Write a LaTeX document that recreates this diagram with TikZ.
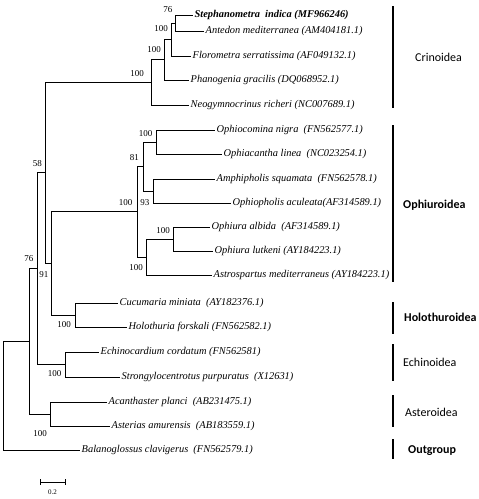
\documentclass[tikz,border=0pt]{standalone}
\usepackage{fontspec}
\setmainfont{Liberation Serif}
\newfontfamily\grpfont{Carlito}
\begin{document}
\begin{tikzpicture}[x=1pt,y=-1pt,
  br/.style={line width=0.85pt, draw=black},
  taxon/.style={anchor=west, inner sep=0pt, xshift=1.5pt, font=\fontsize{10.4}{12}\selectfont\itshape},
  boot/.style={anchor=east, inner sep=0pt, font=\fontsize{9}{10}\selectfont},
  grpbar/.style={line width=1.4pt},
  grp/.style={anchor=west, inner sep=0pt, font=\grpfont\fontsize{12}{14}\selectfont},
  grpb/.style={anchor=west, inner sep=0pt, font=\grpfont\bfseries\fontsize{12}{14}\selectfont}]
\useasboundingbox[fill=white] (0,0) rectangle (479,499);

% ---- tips
\coordinate (tSteph) at (193,15);
\coordinate (tAnt) at (204,31);
\coordinate (tFlor) at (191,56);
\coordinate (tPhan) at (189,80);
\coordinate (tNeo) at (189,105);
\coordinate (tOcom) at (215,130);
\coordinate (tOcan) at (222,154);
\coordinate (tAmph) at (215,179);
\coordinate (tOpho) at (231,203);
\coordinate (tOalb) at (210,227);
\coordinate (tOlut) at (213,251);
\coordinate (tAstro) at (212,275);
\coordinate (tCuc) at (118,303);
\coordinate (tHolo) at (127,327);
\coordinate (tEchi) at (99,352);
\coordinate (tStr) at (120,377);
\coordinate (tAcan) at (107,402);
\coordinate (tAster) at (110,426);
\coordinate (tBal) at (80,450);

% ---- internal nodes
\coordinate (n76) at (175.3,23);
\coordinate (nFlor) at (171.3,39.5);
\coordinate (nPhan) at (164.7,59.8);
\coordinate (nCr) at (151.7,82.4);
\coordinate (nOc) at (156,142);
\coordinate (n93) at (153.3,191);
\coordinate (n81) at (143.3,166.5);
\coordinate (nOa) at (173.3,239);
\coordinate (nAst) at (146,257);
\coordinate (nOph) at (137.3,211.8);
\coordinate (nHol) at (75,315);
\coordinate (n91) at (51.7,263.4);
\coordinate (nA) at (45,172.9);
\coordinate (nEch) at (65.7,364.5);
\coordinate (nB) at (37.3,268.7);
\coordinate (nAs) at (50,414);
\coordinate (nC) at (29.5,341.4);
\coordinate (nR) at (3,395.7);

% ---- branches
\draw[br] (n76) |- (tSteph);
\draw[br] (n76) |- (tAnt);
\draw[br] (nFlor) |- (n76);
\draw[br] (nFlor) |- (tFlor);
\draw[br] (nPhan) |- (nFlor);
\draw[br] (nPhan) |- (tPhan);
\draw[br] (nCr) |- (nPhan);
\draw[br] (nCr) |- (tNeo);
\draw[br] (nOc) |- (tOcom);
\draw[br] (nOc) |- (tOcan);
\draw[br] (n93) |- (tAmph);
\draw[br] (n93) |- (tOpho);
\draw[br] (n81) |- (nOc);
\draw[br] (n81) |- (n93);
\draw[br] (nOa) |- (tOalb);
\draw[br] (nOa) |- (tOlut);
\draw[br] (nAst) |- (nOa);
\draw[br] (nAst) |- (tAstro);
\draw[br] (nOph) |- (n81);
\draw[br] (nOph) |- (nAst);
\draw[br] (nHol) |- (tCuc);
\draw[br] (nHol) |- (tHolo);
\draw[br] (n91) |- (nOph);
\draw[br] (n91) |- (nHol);
\draw[br] (nA) |- (nCr);
\draw[br] (nA) |- (n91);
\draw[br] (nEch) |- (tEchi);
\draw[br] (nEch) |- (tStr);
\draw[br] (nB) |- (nA);
\draw[br] (nB) |- (nEch);
\draw[br] (nAs) |- (tAcan);
\draw[br] (nAs) |- (tAster);
\draw[br] (nC) |- (nB);
\draw[br] (nC) |- (nAs);
\draw[br] (nR) |- (nC);
\draw[br] (nR) |- (tBal);

% ---- taxon labels
\node[taxon] (lSteph) at (tSteph) {\bfseries Stephanometra\ \ indica (MF966246)};
\node[taxon] (lAnt) at (tAnt) {Antedon mediterranea (AM404181.1)};
\node[taxon] (lFlor) at (tFlor) {Florometra serratissima (AF049132.1)};
\node[taxon] (lPhan) at (tPhan) {Phanogenia gracilis (DQ068952.1)};
\node[taxon] (lNeo) at (tNeo) {Neogymnocrinus richeri (NC007689.1)};
\node[taxon] (lOcom) at (tOcom) {Ophiocomina nigra\ \ (FN562577.1)};
\node[taxon] (lOcan) at (tOcan) {Ophiacantha linea\ \ (NC023254.1)};
\node[taxon] (lAmph) at (tAmph) {Amphipholis squamata\ \ (FN562578.1)};
\node[taxon] (lOpho) at (tOpho) {Ophiopholis aculeata(AF314589.1)};
\node[taxon] (lOalb) at (tOalb) {Ophiura albida\ \ (AF314589.1)};
\node[taxon] (lOlut) at (tOlut) {Ophiura lutkeni (AY184223.1)};
\node[taxon] (lAstro) at (tAstro) {Astrospartus mediterraneus (AY184223.1)};
\node[taxon] (lCuc) at (tCuc) {Cucumaria miniata\ \ (AY182376.1)};
\node[taxon] (lHolo) at (tHolo) {Holothuria forskali (FN562582.1)};
\node[taxon] (lEchi) at (tEchi) {Echinocardium cordatum (FN562581)};
\node[taxon] (lStr) at (tStr) {Strongylocentrotus purpuratus\ \ (X12631)};
\node[taxon] (lAcan) at (tAcan) {Acanthaster planci\ \ (AB231475.1)};
\node[taxon] (lAster) at (tAster) {Asterias amurensis\ \ (AB183559.1)};
\node[taxon] (lBal) at (tBal) {Balanoglossus clavigerus\ \ (FN562579.1)};

% ---- bootstrap values
\node[boot] (b76a) at (172.5,10) {76};
\node[boot] (bFlor) at (168,29) {100};
\node[boot] (bPhan) at (161,50) {100};
\node[boot] (bCr) at (144,74) {100};
\node[boot] (b58) at (42,164) {58};
\node[boot] (b76b) at (33.5,259) {76};
\node[boot] (b91) at (48.5,275) {91};
\node[boot] (bOph) at (132.5,203) {100};
\node[boot] (b81) at (139,157.5) {81};
\node[boot] (bOc) at (152.5,134) {100};
\node[boot] (b93) at (149.5,202.5) {93};
\node[boot] (bOa) at (170,231) {100};
\node[boot] (bAst) at (143,268) {100};
\node[boot] (bHol) at (71,325) {100};
\node[boot] (bEch) at (61.5,374) {100};
\node[boot] (bAs) at (47,434) {100};

% ---- group bars and labels
\coordinate (gCrT) at (393,6);   \coordinate (gCrB) at (393,108);
\coordinate (gOpT) at (393,125); \coordinate (gOpB) at (393,282);
\coordinate (gHoT) at (393,302); \coordinate (gHoB) at (393,334);
\coordinate (gEcT) at (393,344); \coordinate (gEcB) at (393,381);
\coordinate (gAsT) at (393,395); \coordinate (gAsB) at (393,427);
\coordinate (gOuT) at (393,439); \coordinate (gOuB) at (393,459);
\draw[grpbar] (gCrT) -- (gCrB);
\draw[grpbar] (gOpT) -- (gOpB);
\draw[grpbar] (gHoT) -- (gHoB);
\draw[grpbar] (gEcT) -- (gEcB);
\draw[grpbar] (gAsT) -- (gAsB);
\draw[grpbar] (gOuT) -- (gOuB);
\node[grp] (gCr) at (415,57) {Crinoidea};
\node[grpb] (gOp) at (403,205) {Ophiuroidea};
\node[grpb] (gHo) at (404,317) {Holothuroidea};
\node[grp] (gEc) at (403,362) {Echinoidea};
\node[grp] (gAs) at (405,412) {Asteroidea};
\node[grpb] (gOu) at (408,451) {Outgroup};

% ---- scale bar
\coordinate (sbL) at (40,482);
\coordinate (sbR) at (65,482);
\draw[line width=0.8pt] (sbL) -- (sbR);
\draw[line width=0.8pt] ([yshift=3pt]sbL) -- ([yshift=-3pt]sbL);
\draw[line width=0.8pt] ([yshift=3pt]sbR) -- ([yshift=-3pt]sbR);
\node[inner sep=0pt, font=\fontsize{7}{8}\selectfont] (sbT) at (52.5,492) {0.2};
\end{tikzpicture}
\end{document}
